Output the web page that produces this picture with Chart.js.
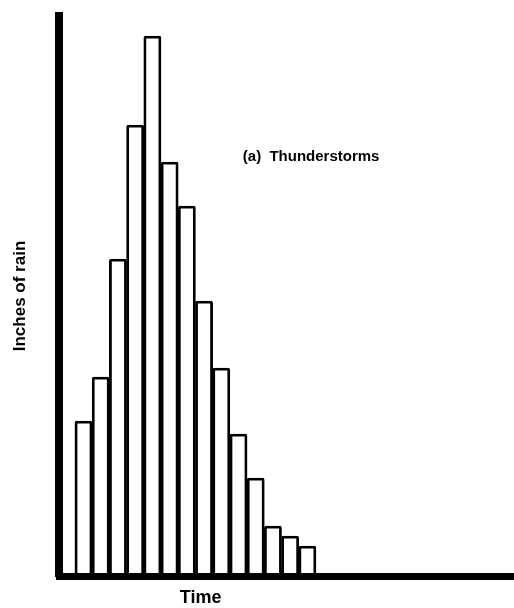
<!DOCTYPE html>
<html>
<head>
<meta charset="utf-8">
<title>Thunderstorms</title>
<script src="https://cdn.jsdelivr.net/npm/chart.js@4"></script>
<style>
    html, body { margin: 0; padding: 0; background: #fff; }
    #chart-container { width: 514px; height: 608px; }
</style>
</head>
<body>
<div id="chart-container"><canvas id="rainChart"></canvas></div>
<script>
// Data (time steps and rain per step)
var timeSteps = [1, 2, 3, 4, 5, 6, 7, 8, 9, 10, 11, 12, 13, 14];
var rainInches = [1.55, 1.99, 3.17, 4.51, 5.40, 4.14, 3.70, 2.75, 2.08, 1.42, 0.98, 0.50, 0.40, 0.30];

var seriesLabel = "(a)  Thunderstorms";
var xTitle = "Time";
var yTitle = "Inches of rain";

var fontFamily = '"Liberation Sans", Arial, Helvetica, sans-serif';

// Plugin for the free text: the series label and the "Time" caption
var textLabels = {
    id: 'textLabels',
    afterDraw: function (chart) {
        var ctx = chart.ctx;
        var xScale = chart.scales.x;
        var yScale = chart.scales.y;
        ctx.save();
        ctx.fillStyle = '#000';
        ctx.textBaseline = 'middle';

        ctx.font = 'bold 15px ' + fontFamily;
        ctx.textAlign = 'left';
        ctx.fillText(seriesLabel, xScale.getPixelForValue(10.25), yScale.getPixelForValue(4.19));

        ctx.font = 'bold 18px ' + fontFamily;
        ctx.textAlign = 'center';
        ctx.fillText(xTitle, xScale.getPixelForValue(7.8), chart.chartArea.bottom + 22);
        ctx.restore();
    }
};

var points = timeSteps.map(function (t, i) {
    return { x: t, y: rainInches[i] };
});

var config = {
    type: 'bar',
    data: {
        datasets: [
            {
                label: seriesLabel,
                data: points,
                backgroundColor: '#fff',
                borderColor: '#000',
                borderWidth: 2.8,
                borderRadius: 2,
                barPercentage: 1,
                categoryPercentage: 1
            }
        ]
    },
    options: {
        responsive: true,
        maintainAspectRatio: false,
        animation: false,
        events: [],
        layout: {
            padding: { top: 16, bottom: 32, left: 6, right: 0 }
        },
        plugins: {
            legend: { display: false },
            tooltip: { enabled: false }
        },
        scales: {
            x: {
                type: 'linear',
                min: -0.4,
                max: 26,
                offset: false,
                grid: { display: false, drawTicks: false },
                ticks: { display: false },
                border: { display: true, color: '#000', width: 7, z: 1 }
            },
            y: {
                min: 0,
                max: 5.60,
                grid: { display: false, drawTicks: false },
                ticks: { display: false },
                border: { display: true, color: '#000', width: 8, z: 1 },
                title: {
                    display: true,
                    text: yTitle,
                    color: '#000',
                    font: { family: fontFamily, size: 17, weight: 'bold' },
                    padding: { top: 4, bottom: 29 }
                }
            }
        }
    },
    plugins: [textLabels]
};

var ctx = document.getElementById('rainChart').getContext('2d');
var chart = new Chart(ctx, config);
</script>
</body>
</html>
